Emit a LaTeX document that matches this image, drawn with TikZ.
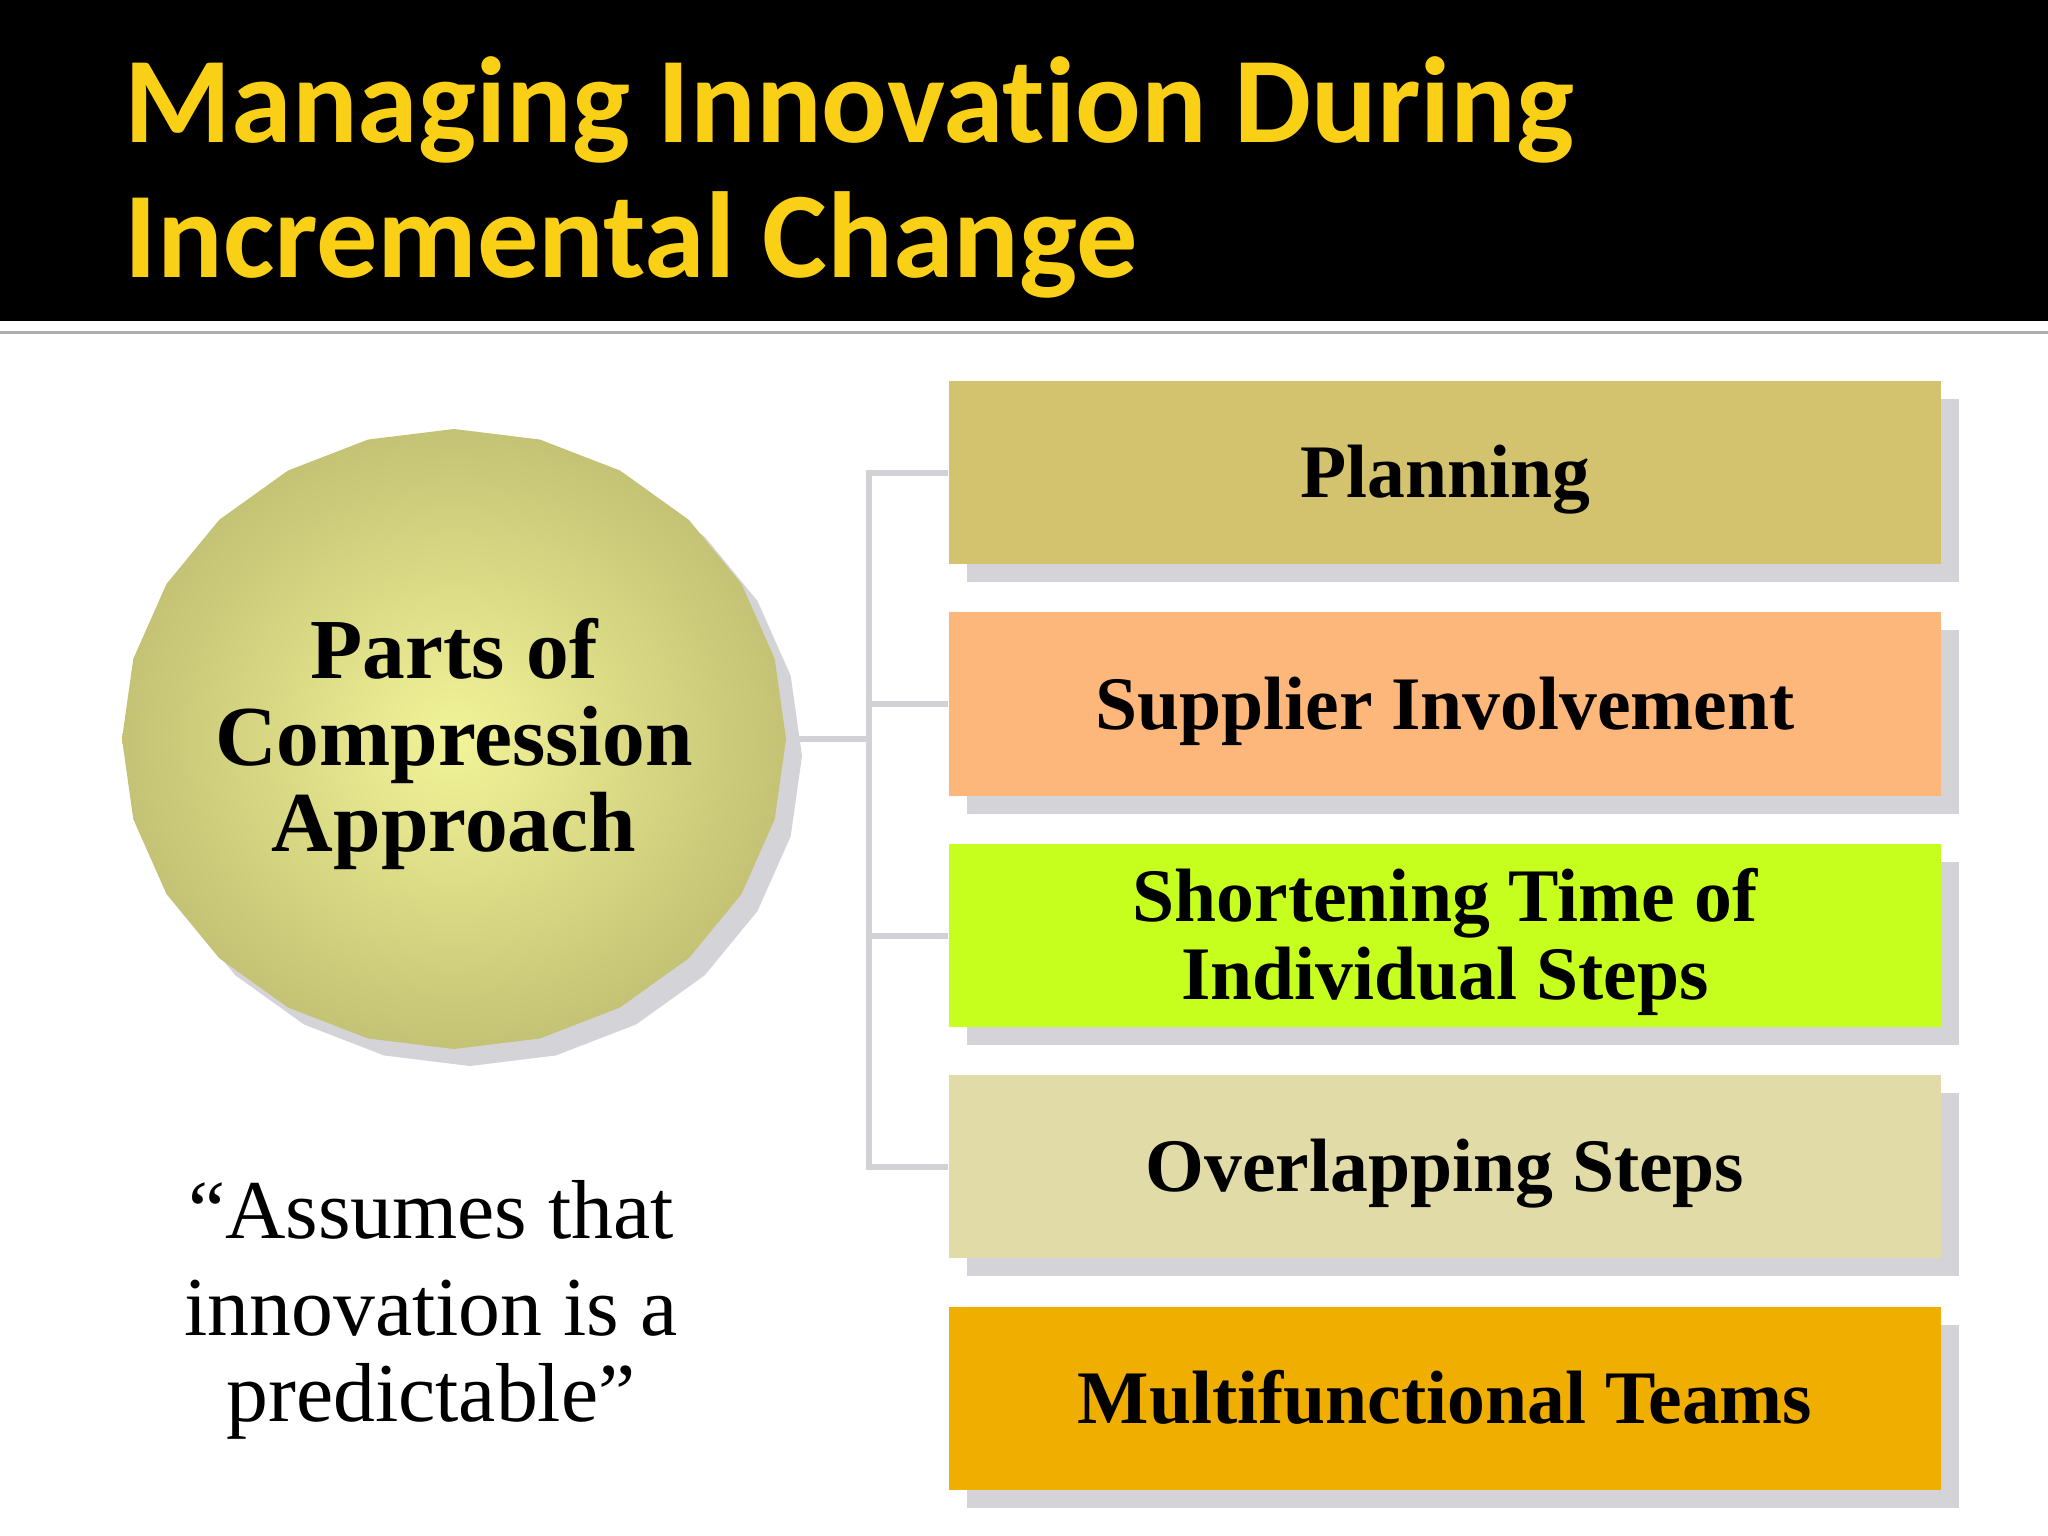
\documentclass[tikz,border=0pt]{standalone}
\usepackage{fontspec}
\setmainfont{Liberation Serif}
\newfontfamily\titlefont[Ligatures=NoCommon]{Carlito}
\usetikzlibrary{shadows,shapes.geometric}
\definecolor{titleyellow}{RGB}{250,208,22}
\definecolor{shadowgray}{RGB}{212,211,215}
\definecolor{conngray}{RGB}{210,209,213}
\definecolor{cPlan}{RGB}{212,195,110}
\definecolor{cSupp}{RGB}{253,183,122}
\definecolor{cShort}{RGB}{198,255,30}
\definecolor{cOver}{RGB}{225,219,168}
\definecolor{cMulti}{RGB}{240,174,0}
\definecolor{circin}{RGB}{242,244,152}
\definecolor{circout}{RGB}{196,194,116}
\pgfdeclarelayer{bg}
\pgfsetlayers{bg,main}
\tikzset{
  titletext/.style={font=\titlefont\bfseries\fontsize{34.8}{40}\selectfont, text=titleyellow, inner sep=0pt},
  itembox/.style={rectangle, minimum width=9.92cm, minimum height=1.83cm, inner sep=0pt, align=center,
    font=\bfseries\fontsize{21.5}{23}\selectfont,
    drop shadow={shadow xshift=0.18cm, shadow yshift=-0.18cm, fill=shadowgray, opacity=1}},
  oneline/.style={text height=0.5cm, text depth=0pt},
  conn/.style={draw=conngray, line width=0.06cm},
  circtext/.style={align=center, inner sep=0pt, font=\bfseries\fontsize{24.3}{25.3}\selectfont},
  quotetext/.style={inner sep=0pt, font=\fontsize{23.8}{25}\selectfont},
}
\begin{document}
\begin{tikzpicture}[x=0.01cm,y=-0.01cm]
\useasboundingbox (0,0) rectangle (2048,1536);
\begin{pgfonlayer}{bg}
\fill[white] (0,0) rectangle (2048,1536);
\fill[black] (0,0) rectangle (2048,321);
\draw[line width=0.03cm, gray!65] (0,332) -- (2048,332);
\end{pgfonlayer}

% title
\node[titletext, anchor=base west] (t1) at (124,142) {Managing Innovation During};
\node[titletext, anchor=base west] (t2) at (124,277) {Incremental Change};

% circle (faceted)
\fill[shadowgray] (470,446) \foreach \k in {1,...,23}{ -- ({470+332*cos(90+15*\k)},{756-310*sin(90+15*\k)}) } -- cycle;
\shade[inner color=circin, outer color=circout] (454,429) \foreach \k in {1,...,23}{ -- ({454+332*cos(90+15*\k)},{739-310*sin(90+15*\k)}) } -- cycle;
\node[ellipse, minimum width=6.64cm, minimum height=6.2cm, inner sep=0pt] (circ) at (454,739) {};
\node[circtext, yshift=-0.05cm] (ctext) at (circ.center) {Parts of\\[0.86cm-\baselineskip]Compression\\[0.86cm-\baselineskip]Approach};

% boxes
\node[itembox, oneline, fill=cPlan] (b1) at (1445,472.5) {Planning};
\node[itembox, oneline, fill=cSupp] (b2) at (1445,704) {Supplier Involvement};
\node[itembox, text depth=0.04cm, fill=cShort] (b3) at (1445,935.5) {Shortening Time of\\[0.78cm-\baselineskip]Individual Steps};
\node[itembox, oneline, fill=cOver] (b4) at (1445,1166.5) {Overlapping Steps};
\node[itembox, oneline, fill=cMulti] (b5) at (1445,1398.5) {Multifunctional Teams};

% quote
\node[quotetext, anchor=base] (q1) at (431,1238) {“Assumes that};
\node[quotetext, anchor=base] (q2) at (431,1335) {innovation is a};
\node[quotetext, anchor=base] (q3) at (431,1421) {predictable”};

% connectors
\coordinate (jx) at (869,739);
\begin{pgfonlayer}{bg}
\draw[conn] (circ.east) -- (jx);
\draw[conn] (b1.west) -| (jx) |- (b4.west);
\draw[conn] (b2.west) -- (b2.west -| jx);
\draw[conn] (b3.west) -- (b3.west -| jx);
\end{pgfonlayer}
\end{tikzpicture}
\end{document}
